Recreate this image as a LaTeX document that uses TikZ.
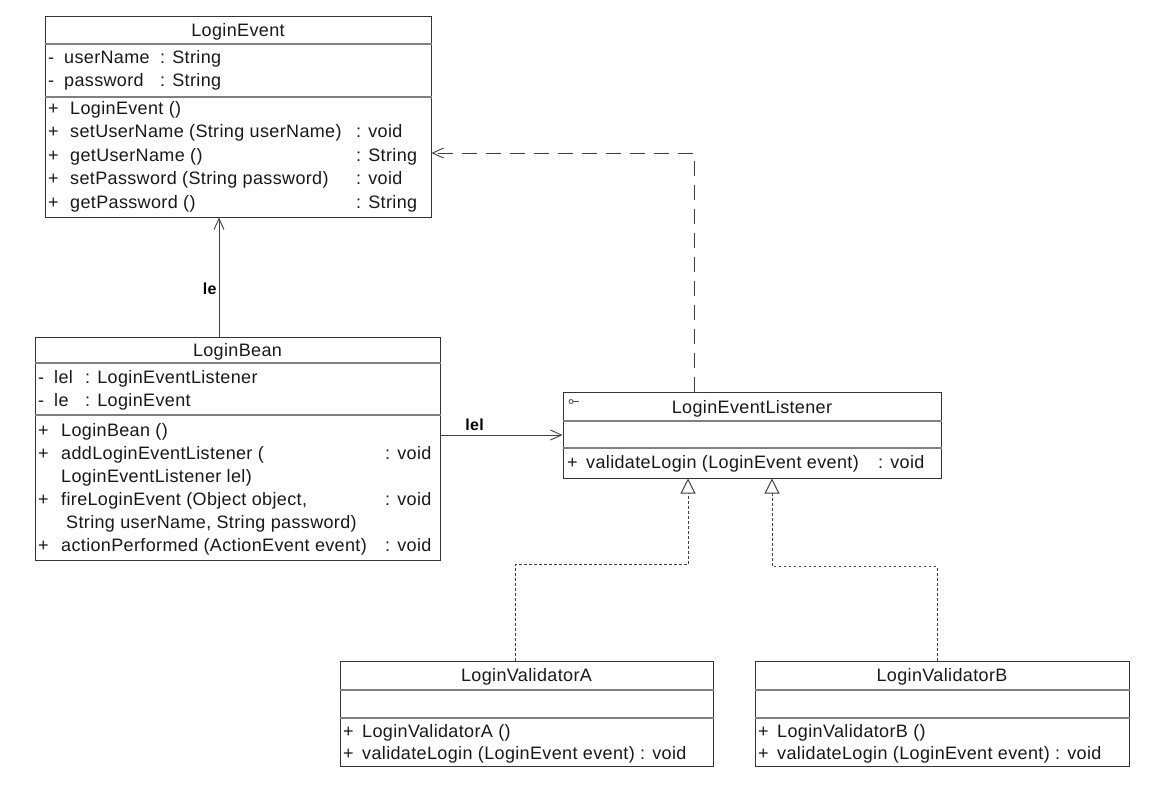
\documentclass[tikz,border=0pt]{standalone}
\usepackage{fontspec}
\setmainfont{Liberation Sans}[LetterSpace=2]
\usetikzlibrary{arrows.meta}

\begin{document}
\begin{tikzpicture}[x=1pt, y=-1pt,
  box/.style={draw=black!80, line width=1pt, inner sep=0pt},
  sep/.style={draw=black!50, line width=1.4pt},
  txt/.style={anchor=west, inner sep=0pt, text height=12pt, text depth=0pt,
    text=black!90, font=\fontsize{18}{21}\selectfont},
  title/.style={txt, anchor=center},
  role/.style={font=\fontsize{16}{19}\selectfont\bfseries, inner sep=2pt},
  assoc/.style={draw=black!75, line width=0.9pt,
    -{Straight Barb[length=11pt,width=10pt]}},
  depend/.style={assoc, dash pattern=on 15pt off 9pt},
  realize/.style={draw=black!75, line width=1pt, dash pattern=on 2.5pt off 2.5pt,
    -{Triangle[open,length=15pt,width=15pt,fill=white]}}]
\fill[white] (0,0) rectangle (1155,796);
\useasboundingbox (0,0) rectangle (1155,796);

% class boxes
\node[box, minimum width=386pt, minimum height=201pt] (event) at (238,116.5) {};
\node[box, minimum width=405pt, minimum height=223pt] (bean) at (237.5,448.5) {};
\node[box, minimum width=378pt, minimum height=86pt] (lsn) at (752,435) {};
\node[box, minimum width=373pt, minimum height=105pt] (valA) at (526.5,713.5) {};
\node[box, minimum width=374pt, minimum height=105pt] (valB) at (942,713.5) {};

% compartments
\draw[sep] (event.west |- 0,44) -- (event.east |- 0,44);
\draw[sep] (event.west |- 0,97) -- (event.east |- 0,97);
\draw[sep] (bean.west |- 0,363) -- (bean.east |- 0,363);
\draw[sep] (bean.west |- 0,415) -- (bean.east |- 0,415);
\draw[sep] (lsn.west |- 0,421) -- (lsn.east |- 0,421);
\draw[sep] (lsn.west |- 0,448) -- (lsn.east |- 0,448);
\draw[sep] (valA.west |- 0,690) -- (valA.east |- 0,690);
\draw[sep] (valA.west |- 0,718) -- (valA.east |- 0,718);
\draw[sep] (valB.west |- 0,690) -- (valB.east |- 0,690);
\draw[sep] (valB.west |- 0,718) -- (valB.east |- 0,718);

% LoginEvent
\node[title] (ev-t) at (238,30) {LoginEvent};
\node[txt] (ev-a1v) at (48,57) {-};
\node[txt] (ev-a1) at (64,57) {userName};
\node[txt] (ev-a1t) at (160,57) {: String};
\node[txt] (ev-a2v) at (48,80) {-};
\node[txt] (ev-a2) at (64,80) {password};
\node[txt] (ev-a2t) at (160,80) {: String};
\node[txt] (ev-m1v) at (48,108) {+};
\node[txt] (ev-m1) at (70,108) {LoginEvent ()};
\node[txt] (ev-m2v) at (48,131.5) {+};
\node[txt] (ev-m2) at (70,131.5) {setUserName (String userName)};
\node[txt] (ev-m2t) at (356,131.5) {: void};
\node[txt] (ev-m3v) at (48,155) {+};
\node[txt] (ev-m3) at (70,155) {getUserName ()};
\node[txt] (ev-m3t) at (356,155) {: String};
\node[txt] (ev-m4v) at (48,178.5) {+};
\node[txt] (ev-m4) at (70,178.5) {setPassword (String password)};
\node[txt] (ev-m4t) at (356,178.5) {: void};
\node[txt] (ev-m5v) at (48,202) {+};
\node[txt] (ev-m5) at (70,202) {getPassword ()};
\node[txt] (ev-m5t) at (356,202) {: String};

% LoginBean
\node[title] (bn-t) at (237.5,350) {LoginBean};
\node[txt] (bn-a1v) at (38,377) {-};
\node[txt] (bn-a1) at (54,377) {lel};
\node[txt] (bn-a1t) at (85,377) {: LoginEventListener};
\node[txt] (bn-a2v) at (38,400) {-};
\node[txt] (bn-a2) at (54,400) {le};
\node[txt] (bn-a2t) at (85,400) {: LoginEvent};
\node[txt] (bn-m1v) at (38,430) {+};
\node[txt] (bn-m1) at (61,430) {LoginBean ()};
\node[txt] (bn-m2v) at (38,453) {+};
\node[txt] (bn-m2) at (61,453) {addLoginEventListener (};
\node[txt] (bn-m2t) at (385,453) {: void};
\node[txt] (bn-m2b) at (61,476) {LoginEventListener lel)};
\node[txt] (bn-m3v) at (38,499) {+};
\node[txt] (bn-m3) at (61,499) {fireLoginEvent (Object object,};
\node[txt] (bn-m3t) at (385,499) {: void};
\node[txt] (bn-m3b) at (66,522) {String userName, String password)};
\node[txt] (bn-m4v) at (38,545) {+};
\node[txt] (bn-m4) at (61,545) {actionPerformed (ActionEvent event)};
\node[txt] (bn-m4t) at (385,545) {: void};

% LoginEventListener
\node[title] (ls-t) at (752,407) {LoginEventListener};
\draw[black!70, line width=0.8pt] ([shift={(10.5,10)}]lsn.north west) -- ++(5.5,0);
\draw[black!70, line width=0.8pt, fill=white] ([shift={(8.5,10)}]lsn.north west) circle (2);
\node[txt] (ls-m1v) at (567,462) {+};
\node[txt] (ls-m1) at (586,462) {validateLogin (LoginEvent event)};
\node[txt] (ls-m1t) at (878,462) {: void};

% LoginValidatorA
\node[title] (va-t) at (526.5,675) {LoginValidatorA};
\node[txt] (va-m1v) at (343,731) {+};
\node[txt] (va-m1) at (362,731) {LoginValidatorA ()};
\node[txt] (va-m2v) at (343,753) {+};
\node[txt] (va-m2) at (362,753) {validateLogin (LoginEvent event) : void};

% LoginValidatorB
\node[title] (vb-t) at (942,675) {LoginValidatorB};
\node[txt] (vb-m1v) at (758,731) {+};
\node[txt] (vb-m1) at (777,731) {LoginValidatorB ()};
\node[txt] (vb-m2v) at (758,753) {+};
\node[txt] (vb-m2) at (777,753) {validateLogin (LoginEvent event) : void};

% relations
\draw[assoc] ([xshift=-18.5pt]bean.north) -- ([xshift=-18.5pt]bean.north |- event.south)
  node[role, pos=0.4, left] (le) {le};
\draw[assoc] ([yshift=13.5pt]bean.east) -- (lsn.west)
  node[role, pos=0.28, above=2pt] (lel) {lel};
\draw[depend] ([xshift=-58pt]lsn.north) |- ([yshift=-36.5pt]event.east);
\draw[realize] ([xshift=-11.5pt]valA.north) |- ([shift={(-64,86)}]lsn.south)
  -- ([xshift=-64pt]lsn.south);
\draw[realize] ([xshift=-5pt]valB.north) |- ([shift={(20,88)}]lsn.south)
  -- ([xshift=20pt]lsn.south);
\end{tikzpicture}
\end{document}
